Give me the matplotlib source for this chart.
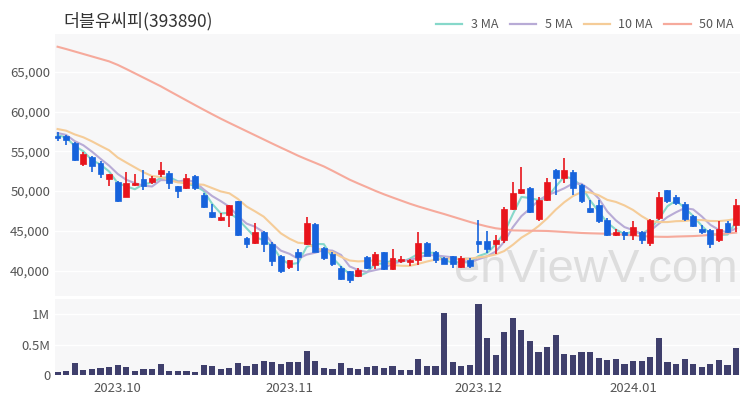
import matplotlib
matplotlib.use('Agg')
import matplotlib.pyplot as plt
import numpy as np
import pandas as pd
from matplotlib.lines import Line2D

plt.rcParams['font.family'] = ['Noto Sans CJK KR', 'DejaVu Sans']

title = "더블유씨피(393890)"

# trading calendar
holidays = ['2023-09-28', '2023-09-29', '2023-10-02', '2023-10-03', '2023-10-09',
            '2023-12-25', '2023-12-29', '2024-01-01']
dates = pd.bdate_range('2023-09-18', '2024-01-17')
dates = dates[~dates.isin(pd.to_datetime(holidays))]

opens = [56900, 56900, 56100, 53400, 54300, 53500, 51500, 51200, 49300, 50800,
         51500, 51100, 52100, 52300, 50600, 50400, 51900, 49500, 47400, 46400,
         47000, 48700, 44100, 43500, 44800, 43400, 41800, 40500, 42400, 43400,
         45900, 42800, 42100, 40300, 39900, 39300, 41700, 40700, 42300, 40200,
         41200, 41100, 41300, 43500, 42300, 41600, 41800, 40500, 41400, 43700,
         43700, 43300, 43900, 47800, 49800, 50400, 46500, 48900, 52700, 51600,
         52400, 50800, 47900, 48200, 46400, 44500, 44800, 44500, 44800, 43500,
         46600, 50100, 49200, 48400, 46900, 45300, 45100, 43800, 46000, 45800]
highs = [57400, 57000, 56200, 54900, 54400, 53800, 52200, 51300, 52400, 52100,
         52600, 51900, 53700, 52500, 50700, 52200, 52000, 49800, 48400, 47200,
         48300, 48800, 44200, 46000, 45000, 43600, 42000, 41400, 42700, 46800,
         46000, 43000, 42300, 40600, 40000, 40300, 41900, 42300, 42400, 42700,
         41800, 41500, 44800, 43600, 42500, 41700, 41900, 41800, 41600, 46400,
         45000, 44500, 48000, 51100, 53000, 50500, 49200, 51700, 52800, 54200,
         52600, 50900, 48900, 48900, 46600, 45300, 45000, 46300, 45000, 46500,
         49900, 50200, 49500, 48600, 47000, 45700, 45300, 46300, 46200, 49000]
lows = [56300, 55800, 53800, 53200, 52400, 51600, 50600, 48600, 49200, 50700,
        50100, 50900, 51800, 50300, 49100, 50300, 50100, 47900, 46600, 46300,
        45500, 44400, 42800, 43400, 42400, 40600, 39700, 40200, 39900, 43200,
        42300, 41400, 40600, 38800, 38500, 39200, 40200, 40200, 40100, 40100,
        41000, 40600, 40700, 41800, 41000, 40800, 40300, 40300, 40300, 42200,
        42200, 42100, 43500, 47600, 49600, 47200, 46300, 48700, 49500, 51000,
        49500, 48500, 47200, 46000, 44400, 44400, 43900, 43900, 43400, 43100,
        46400, 48500, 48300, 46300, 45500, 44600, 42900, 43600, 44700, 44900]
closes = [56700, 56400, 53900, 54700, 53100, 52200, 52100, 48700, 51000, 51000,
          50600, 51600, 52700, 51000, 50000, 51700, 50400, 48000, 46800, 46800,
          48200, 44500, 43300, 44800, 43400, 41200, 39900, 41300, 41700, 46000,
          42400, 41600, 40900, 39000, 38800, 40100, 40400, 42100, 40200, 41600,
          41500, 41400, 43500, 41900, 41300, 40900, 40800, 41600, 40600, 43300,
          42700, 43800, 47800, 49700, 50300, 47400, 48900, 51200, 51600, 52700,
          50400, 48700, 47400, 46200, 44500, 44800, 44500, 45500, 43900, 46400,
          49200, 48700, 48500, 46500, 45600, 44800, 43400, 45300, 44900, 48200]
volumes = [0.044, 0.07, 0.20, 0.082, 0.10, 0.11, 0.125, 0.17, 0.13, 0.066,
           0.098, 0.098, 0.175, 0.07, 0.07, 0.07, 0.055, 0.17, 0.148, 0.10,
           0.12, 0.19, 0.14, 0.18, 0.235, 0.21, 0.175, 0.22, 0.22, 0.39,
           0.23, 0.11, 0.098, 0.20, 0.115, 0.098, 0.13, 0.15, 0.11, 0.15,
           0.08, 0.09, 0.27, 0.14, 0.14, 1.02, 0.22, 0.15, 0.16, 1.16,
           0.60, 0.32, 0.71, 0.93, 0.73, 0.56, 0.37, 0.46, 0.66, 0.34,
           0.32, 0.38, 0.38, 0.28, 0.24, 0.27, 0.18, 0.23, 0.235, 0.30,
           0.60, 0.21, 0.175, 0.26, 0.18, 0.13, 0.175, 0.245, 0.16, 0.44]
volumes = [v * 1e6 for v in volumes]

# closes before the first visible day (for moving averages)
prior_closes = [58500, 58600, 58300, 58200, 57900, 57600, 57800, 57300, 57100]

# 50-day MA
ma50 = [68140, 67850, 67540, 67230, 66920, 66610, 66300, 65860, 65340, 64800,
        64260, 63720, 63180, 62580, 61990, 61400, 60810, 60230, 59660, 59100,
        58570, 58050, 57530, 57010, 56490, 55970, 55460, 54960, 54450, 53990,
        53550, 53100, 52560, 52000, 51440, 50960, 50500, 50030, 49600, 49200,
        48810, 48420, 48070, 47750, 47430, 47120, 46790, 46460, 46130, 45830,
        45560, 45330, 45200, 45060, 45040, 45020, 45010, 44990, 44930, 44860,
        44800, 44740, 44700, 44670, 44640, 44590, 44510, 44430, 44350, 44290,
        44260, 44250, 44290, 44320, 44350, 44410, 44500, 44590, 44690, 44780]

ma_labels = ['3 MA', '5 MA', '10 MA', '50 MA']
ma_colors = ['#86d8ca', '#b8abd6', '#f5cc98', '#f6aa9c']

month_labels = ['2023.10', '2023.11', '2023.12', '2024.01']
month_starts = pd.to_datetime(['2023-10-01', '2023-11-01', '2023-12-01', '2024-01-01'])

# ---------------------------------------------------------------
n = len(closes)
x = np.arange(n)
ext = pd.Series(prior_closes + closes, dtype=float)
ma3 = ext.rolling(3).mean().iloc[len(prior_closes):].values
ma5 = ext.rolling(5).mean().iloc[len(prior_closes):].values
ma10 = ext.rolling(10).mean().iloc[len(prior_closes):].values
mas = [ma3, ma5, ma10, np.array(ma50, dtype=float)]

tick_pos = [np.searchsorted(dates.values, m.to_datetime64(), side='right') - 1 for m in month_starts]

UP = '#e8141c'
DOWN = '#1763dc'
BG = '#f7f7f8'
TXT = '#555555'

fig = plt.figure(figsize=(7.5, 4), dpi=100)
ax = fig.add_axes([55 / 750, 1 - 296 / 400, 685 / 750, 262 / 400])
axv = fig.add_axes([55 / 750, 1 - 375 / 400, 685 / 750, 76 / 400])

for a in (ax, axv):
    a.set_facecolor(BG)
    for s in a.spines.values():
        s.set_visible(False)
    a.tick_params(length=0, colors=TXT, labelsize=9.5)
    a.set_xlim(-0.3, n - 0.55)

# price panel
ax.set_ylim(36820, 69740)
yt = [40000, 45000, 50000, 55000, 60000, 65000]
ax.set_yticks(yt)
ax.set_yticklabels([f'{v:,}' for v in yt])
ax.grid(axis='y', color='white', lw=1.0, zorder=0)
ax.set_axisbelow(True)
ax.set_xticks([])

ax.text(0.79, 0.1, 'enViewV.com', transform=ax.transAxes, fontsize=34,
        family='Liberation Sans', color='#cfcfcf', alpha=0.65, ha='center',
        va='center', zorder=1)

for m, c, lab in zip(mas, ma_colors, ma_labels):
    ax.plot(x, m, color=c, lw=1.5, zorder=2, label=lab)

o = np.array(opens, float); c = np.array(closes, float)
h = np.array(highs, float); l = np.array(lows, float)
up = c >= o
cols = np.where(up, UP, DOWN)
ax.vlines(x, l, h, colors=cols, lw=1.2, zorder=3)
body_lo = np.minimum(o, c)
body_h = np.maximum(np.abs(c - o), 120)
ax.bar(x, body_h, bottom=body_lo, width=0.68, color=cols, edgecolor=cols,
       lw=0.5, zorder=4)

# volume panel
axv.set_ylim(0, 1.246e6)
axv.set_yticks([0, 0.5e6, 1e6])
axv.set_yticklabels(['0', '0.5M', '1M'])
axv.grid(axis='y', color='white', lw=1.0, zorder=0)
axv.set_axisbelow(True)
axv.bar(x, volumes, width=0.72, color='#3f3f6c', zorder=2)
axv.set_xticks(tick_pos)
axv.set_xticklabels(month_labels)
axv.tick_params(axis='x', pad=5, labelsize=9.5)

fig.text(63 / 750, 1 - 21 / 400, title, fontsize=12.5, color='#333333', va='center')

handles = [Line2D([0], [0], color=cc, lw=1.6) for cc in ma_colors]
leg = fig.legend(handles, ma_labels, loc='center right', bbox_to_anchor=(0.985, 1 - 25 / 400),
                 ncol=4, frameon=False, fontsize=9, handlelength=2.1,
                 columnspacing=0.9, handletextpad=0.7, borderaxespad=0)
for t in leg.get_texts():
    t.set_color(TXT)

fig.savefig('out.png', dpi=100)
